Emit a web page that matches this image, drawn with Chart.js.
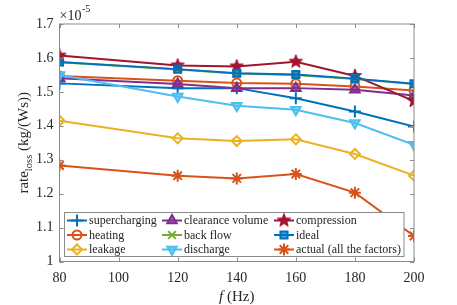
<!DOCTYPE html>
<html>
<head>
<meta charset="utf-8">
<script src="https://cdn.jsdelivr.net/npm/chart.js@4"></script>
<style>
  html, body { margin: 0; padding: 0; background: #fff; }
  #wrap { width: 457px; height: 305px; position: relative; }
</style>
</head>
<body>
<div id="wrap"><canvas id="grafico"></canvas></div>
<script>
// datos (valores en unidades de 1e-5 kg/(Ws))
const freqs = [80, 120, 140, 160, 180, 200];
const supercharging = [1.525, 1.511, 1.511, 1.481, 1.442, 1.398];
const heating = [1.547, 1.533, 1.526, 1.524, 1.516, 1.504];
const leakage = [1.415, 1.363, 1.355, 1.360, 1.317, 1.253];
const clearanceVolume = [1.540, 1.523, 1.511, 1.511, 1.506, 1.489];
const backFlow = [1.587, 1.566, 1.554, 1.550, 1.538, 1.523];
const discharge = [1.550, 1.486, 1.459, 1.447, 1.408, 1.344];
const compression = [1.607, 1.578, 1.575, 1.589, 1.547, 1.473];
const ideal = [1.588, 1.567, 1.555, 1.551, 1.539, 1.524];
const actual = [1.283, 1.253, 1.245, 1.258, 1.203, 1.075];
const xTicks = [80, 100, 120, 140, 160, 180, 200];
const yTicks = [1, 1.1, 1.2, 1.3, 1.4, 1.5, 1.6, 1.7];

const FONT = "'Liberation Serif', 'DejaVu Serif', serif";
const AXIS = "#8a8a8a";
const TXT = "#262626";

// estrella de 5 puntas (no existe en Chart.js)
function starCanvas(color, r) {
  const c = document.createElement("canvas");
  const s = Math.ceil(r * 2 + 4);
  c.width = s; c.height = s;
  const g = c.getContext("2d");
  g.beginPath();
  for (let i = 0; i < 10; i++) {
    const rr = i % 2 === 0 ? r : r * 0.42;
    const a = -Math.PI / 2 + (i * Math.PI) / 5;
    const px = s / 2 + rr * Math.cos(a), py = s / 2 + rr * Math.sin(a);
    i === 0 ? g.moveTo(px, py) : g.lineTo(px, py);
  }
  g.closePath();
  g.fillStyle = color;
  g.fill();
  g.strokeStyle = color;
  g.lineWidth = 1;
  g.stroke();
  return c;
}
const starImg = starCanvas("#A2142F", 7);

const series = [
  { label: "supercharging", data: supercharging, color: "#0072BD", style: "cross", fill: false, r: 6 },
  { label: "heating", data: heating, color: "#D95319", style: "circle", fill: false, r: 4.5 },
  { label: "leakage", data: leakage, color: "#EDB120", style: "rectRot", fill: false, r: 5 },
  { label: "clearance volume", data: clearanceVolume, color: "#7E2F8E", style: "triangle", fill: true, r: 5.5 },
  { label: "back flow", data: backFlow, color: "#77AC30", style: "crossRot", fill: false, r: 5.5 },
  { label: "discharge", data: discharge, color: "#4DBEEE", style: "triangle", fill: true, r: 5.5, rot: 180 },
  { label: "compression", data: compression, color: "#A2142F", style: starImg, fill: true, r: 7 },
  { label: "ideal", data: ideal, color: "#0072BD", style: "rect", fill: true, r: 5 },
  { label: "actual (all the factors)", data: actual, color: "#D95319", style: "star", fill: false, r: 6 },
];

// orden del legend (por columnas, como MATLAB)
const legendCols = [[0, 1, 2], [3, 4, 5], [6, 7, 8]];

const datasets = series.map((s, i) => ({
  label: s.label,
  data: freqs.map((f, k) => ({ x: f, y: s.data[k] })),
  borderColor: s.color,
  backgroundColor: s.fill ? s.color + "AA" : "rgba(0,0,0,0)",
  borderWidth: 2,
  pointStyle: s.style,
  pointRadius: s.r,
  pointRotation: s.rot || 0,
  pointBorderWidth: 2,
  pointBorderColor: s.color,
  pointBackgroundColor: s.fill ? s.color + "AA" : "rgba(0,0,0,0)",
  tension: 0,
  order: series.length - i,
}));

const decor = {
  id: "decor",
  afterDraw(chart) {
    const { ctx, chartArea: a, scales } = chart;
    ctx.save();
    // caja y ticks interiores
    ctx.strokeStyle = AXIS;
    ctx.lineWidth = 1;
    ctx.strokeRect(a.left, a.top, a.right - a.left, a.bottom - a.top);
    ctx.beginPath();
    xTicks.forEach((f) => {
      const px = Math.round(scales.x.getPixelForValue(f)) + 0.5;
      ctx.moveTo(px, a.bottom); ctx.lineTo(px, a.bottom - 4);
      ctx.moveTo(px, a.top); ctx.lineTo(px, a.top + 4);
    });
    yTicks.forEach((v) => {
      const py = Math.round(scales.y.getPixelForValue(v)) + 0.5;
      ctx.moveTo(a.left, py); ctx.lineTo(a.left + 4, py);
      ctx.moveTo(a.right, py); ctx.lineTo(a.right - 4, py);
    });
    ctx.stroke();

    // x10^-5
    ctx.fillStyle = TXT;
    ctx.textBaseline = "alphabetic";
    ctx.textAlign = "left";
    ctx.font = "14px " + FONT;
    ctx.fillText("\u00d710", a.left, 20);
    const w10 = ctx.measureText("\u00d710").width;
    ctx.font = "10px " + FONT;
    ctx.fillText("-5", a.left + w10 + 0.5, 12);

    // titulo eje x
    ctx.font = "italic 15px " + FONT;
    const wf = ctx.measureText("f").width;
    ctx.font = "15px " + FONT;
    const wh = ctx.measureText(" (Hz)").width;
    const cx = (a.left + a.right) / 2;
    const x0 = cx - (wf + wh) / 2;
    ctx.textBaseline = "middle";
    ctx.font = "italic 15px " + FONT;
    ctx.fillText("f", x0, 297);
    ctx.font = "15px " + FONT;
    ctx.fillText(" (Hz)", x0 + wf, 297);

    // titulo eje y
    ctx.save();
    ctx.translate(23, (a.top + a.bottom) / 2);
    ctx.rotate(-Math.PI / 2);
    ctx.textBaseline = "alphabetic";
    ctx.font = "15px " + FONT;
    const w1 = ctx.measureText("rate").width;
    const w3 = ctx.measureText(" (kg/(Ws))").width;
    ctx.font = "10.5px " + FONT;
    const w2 = ctx.measureText("loss").width;
    const sx = -(w1 + w2 + w3) / 2;
    ctx.font = "15px " + FONT;
    ctx.fillText("rate", sx, 5);
    ctx.font = "10.5px " + FONT;
    ctx.fillText("loss", sx + w1, 9);
    ctx.font = "15px " + FONT;
    ctx.fillText(" (kg/(Ws))", sx + w1 + w2, 5);
    ctx.restore();

    // leyenda
    const box = { x: 64.5, y: 212.5, w: 339.5, h: 44 };
    ctx.fillStyle = "#fff";
    ctx.fillRect(box.x, box.y, box.w, box.h);
    ctx.strokeStyle = AXIS;
    ctx.lineWidth = 1;
    ctx.strokeRect(box.x, box.y, box.w, box.h);
    const colX = [67, 162, 274];
    const rowY = [220.5, 235, 249.5];
    legendCols.forEach((col, ci) => {
      col.forEach((si, ri) => {
        const s = series[si];
        const lx = colX[ci], ly = rowY[ri];
        ctx.strokeStyle = s.color;
        ctx.lineWidth = 2;
        ctx.beginPath();
        ctx.moveTo(lx, ly); ctx.lineTo(lx + 20, ly);
        ctx.stroke();
        ctx.fillStyle = s.fill ? s.color + "AA" : "rgba(0,0,0,0)";
        ctx.strokeStyle = s.color;
        Chart.helpers.drawPoint(ctx, {
          pointStyle: s.style,
          radius: s.r,
          rotation: s.rot || 0,
          borderWidth: 2,
        }, lx + 10, ly);
        ctx.fillStyle = TXT;
        ctx.font = "12px " + FONT;
        ctx.textAlign = "left";
        ctx.textBaseline = "middle";
        ctx.fillText(s.label, lx + 22, ly + 0.5);
      });
    });
    ctx.restore();
  },
};

new Chart(document.getElementById("grafico"), {
  type: "line",
  data: { datasets },
  options: {
    responsive: true,
    maintainAspectRatio: false,
    animation: false,
    layout: { padding: { left: 0, top: 24, right: 43, bottom: 0 } },
    plugins: { legend: { display: false }, tooltip: { enabled: false } },
    scales: {
      x: {
        type: "linear",
        min: 80,
        max: 200,
        afterFit: (s) => { s.height = 43.5; },
        afterBuildTicks: (s) => { s.ticks = xTicks.map((v) => ({ value: v })); },
        grid: { display: false, drawTicks: false },
        border: { display: false },
        ticks: { color: TXT, font: { family: FONT, size: 14 }, padding: 8, maxRotation: 0 },
      },
      y: {
        min: 1,
        max: 1.7,
        afterFit: (s) => { s.width = 59.5; },
        afterBuildTicks: (s) => { s.ticks = yTicks.map((v) => ({ value: v })); },
        grid: { display: false, drawTicks: false },
        border: { display: false },
        ticks: {
          color: TXT,
          font: { family: FONT, size: 14 },
          padding: 6,
          callback: (v) => String(Number(v.toFixed(1))),
        },
      },
    },
  },
  plugins: [decor],
});
</script>
</body>
</html>
